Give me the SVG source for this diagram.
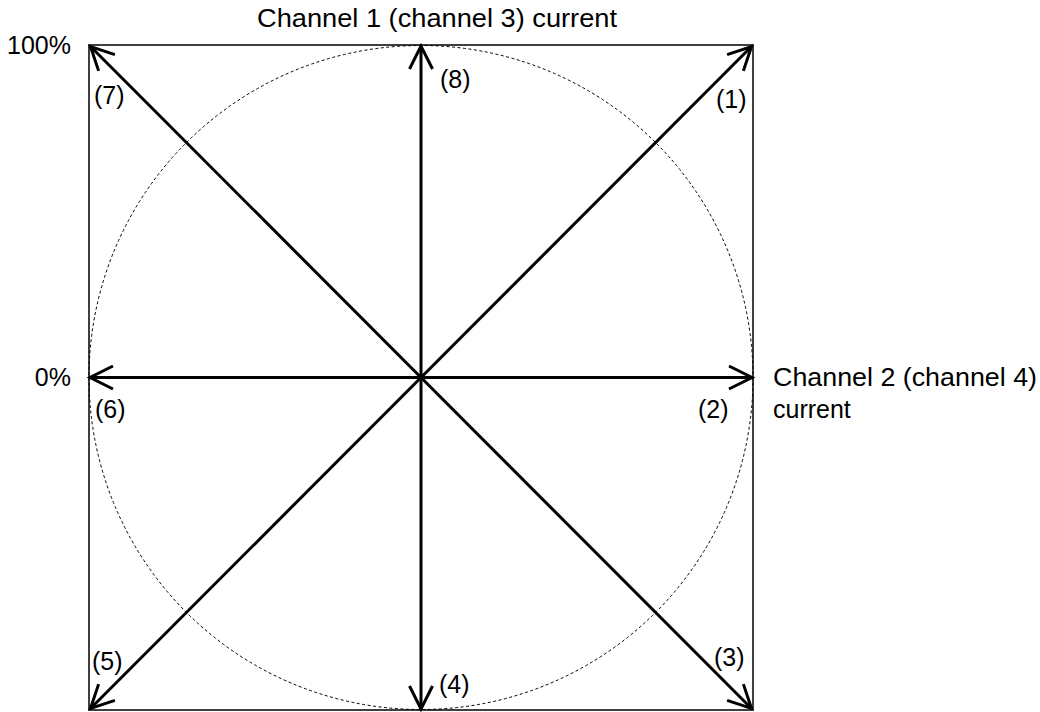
<svg xmlns="http://www.w3.org/2000/svg" width="1040" height="712" viewBox="0 0 1040 712">
<style>
  text { font-family: "Liberation Sans", Arial, sans-serif; font-size: 25px; fill: #000; }
  .frame { fill: none; stroke: #000; stroke-width: 1.5; }
  .circ { fill: none; stroke: #000; stroke-width: 1; stroke-dasharray: 3 2.5; }
  .vec { stroke: #000; stroke-width: 3; fill: none; marker-end: url(#arr); }
</style>
<defs>
  <marker id="arr" markerUnits="userSpaceOnUse" markerWidth="40" markerHeight="40" viewBox="-30 -20 40 40" refX="0" refY="0" orient="auto" overflow="visible">
    <path d="M-23,-11.5 L0,0 L-23,11.5" fill="none" stroke="#000" stroke-width="3" stroke-linejoin="miter"/>
  </marker>
</defs>
<rect fill="#fff" x="0" y="0" width="1040" height="712"/>
<g id="frame">
  <rect class="frame" x="89" y="45" width="664" height="665"/>
  <circle class="circ" cx="421" cy="377.5" r="332"/>
</g>
<g id="connectors">
  <line class="vec" x1="421" y1="377.5" x2="751.5" y2="46.5"/>
  <line class="vec" x1="421" y1="377.5" x2="752" y2="377.5"/>
  <line class="vec" x1="421" y1="377.5" x2="751.5" y2="708.5"/>
  <line class="vec" x1="421" y1="377.5" x2="421" y2="709"/>
  <line class="vec" x1="421" y1="377.5" x2="90.5" y2="708.5"/>
  <line class="vec" x1="421" y1="377.5" x2="90" y2="377.5"/>
  <line class="vec" x1="421" y1="377.5" x2="90.5" y2="46.5"/>
  <line class="vec" x1="421" y1="377.5" x2="421" y2="46"/>
</g>
<g id="labels">
  <text x="257" y="27" textLength="360" lengthAdjust="spacingAndGlyphs">Channel 1 (channel 3) current</text>
  <text x="71" y="54" text-anchor="end">100%</text>
  <text x="71" y="386" text-anchor="end">0%</text>
  <text x="773" y="386" textLength="264" lengthAdjust="spacingAndGlyphs">Channel 2 (channel 4)</text>
  <text x="773" y="418">current</text>
  <text x="716" y="108">(1)</text>
  <text x="698" y="418">(2)</text>
  <text x="714" y="666">(3)</text>
  <text x="439" y="693">(4)</text>
  <text x="92" y="670">(5)</text>
  <text x="95" y="418">(6)</text>
  <text x="94" y="104">(7)</text>
  <text x="440" y="88">(8)</text>
</g>
</svg>
